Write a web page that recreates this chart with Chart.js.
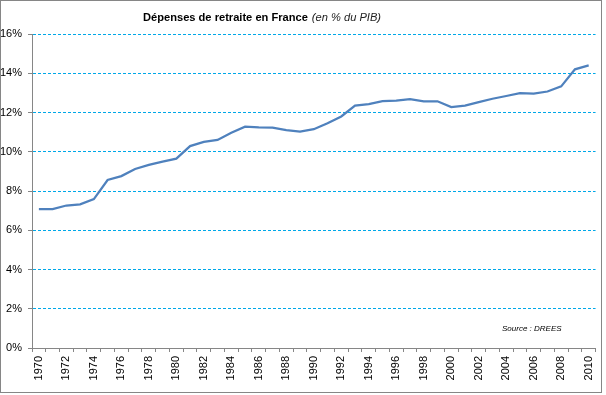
<!DOCTYPE html>
<html><head><meta charset="utf-8">
<script src="https://cdn.jsdelivr.net/npm/chart.js@4"></script>
<style>html,body{margin:0;padding:0;background:#fff}#w{position:relative;width:606px;height:395px}</style>
</head><body><div id="w"><canvas id="c" width="606" height="395"></canvas></div>
<script>
const years = [];
for (let y = 1970; y <= 2010; y++) years.push(String(y));
const spending = [7.08,7.08,7.26,7.32,7.59,8.56,8.76,9.12,9.33,9.5,9.65,10.29,10.5,10.6,10.97,11.28,11.24,11.23,11.1,11.03,11.15,11.45,11.8,12.35,12.43,12.58,12.6,12.68,12.57,12.57,12.28,12.35,12.53,12.7,12.84,12.99,12.96,13.07,13.33,14.2,14.4];
const yTicks = [0,2,4,6,8,10,12,14,16];
const titleBold = "Dépenses de retraite en France";
const titleItalic = "(en % du PIB)";
const sourceText = "Source : DREES";

const FONT = "'Liberation Sans', Arial, sans-serif";
const overlay = {
  id: 'overlay',
  afterDraw(chart) {
    const ctx = chart.ctx;
    ctx.save();
    ctx.strokeStyle = '#868686'; ctx.lineWidth = 1;
    ctx.strokeRect(0.5, 0.5, 601, 392);
    ctx.fillStyle = '#000'; ctx.textBaseline = 'alphabetic'; ctx.textAlign = 'left';
    ctx.font = 'bold 13px ' + FONT;
    const wb0 = ctx.measureText(titleBold).width;
    const sz = Math.min(13, 13 * 165 / wb0);
    ctx.font = 'bold ' + sz + 'px ' + FONT;
    const wb = ctx.measureText(titleBold).width;
    ctx.fillText(titleBold, 143, 21);
    ctx.font = 'italic ' + sz + 'px ' + FONT;
    ctx.fillStyle = '#222';
    ctx.fillText(titleItalic, 143 + wb + 4, 21);
    ctx.font = 'italic 8px ' + FONT;
    ctx.fillStyle = '#000';
    ctx.fillText(sourceText, 502, 331);
    ctx.restore();
  }
};

new Chart(document.getElementById('c'), {
  type: 'line',
  data: { labels: years, datasets: [{ data: spending, borderColor: '#4F81BD', borderWidth: 2.25, pointRadius: 0, tension: 0, fill: false }] },
  options: {
    responsive: false, animation: false,
    layout: { padding: { top: 34, right: 9, bottom: 0, left: 0 } },
    plugins: { legend: { display: false }, tooltip: { enabled: false }, title: { display: false } },
    scales: {
      x: {
        type: 'category', offset: true,
        grid: { offset: true, drawOnChartArea: false, drawTicks: true, tickLength: 4, tickColor: '#868686' },
        border: { color: '#868686', width: 1 },
        ticks: { autoSkip: false, minRotation: 90, maxRotation: 90, padding: 4, color: '#000',
          font: { family: FONT, size: 11 },
          callback: function(v, i) { return i % 2 === 0 ? years[i] : ''; } },
        afterFit(s) { s.height = 47; }
      },
      y: {
        min: 0, max: 16,
        afterBuildTicks(s) { s.ticks = yTicks.map(v => ({ value: v })); },
        grid: { color: ctx => ctx.tick && ctx.tick.value === 0 ? 'rgba(0,0,0,0)' : '#00A8E8', lineWidth: 1,
          borderDash: [3, 2], tickLength: 4, tickColor: '#868686', tickBorderDash: [0, 0] },
        border: { color: '#868686', width: 1, dash: [3, 2] },
        ticks: { padding: 6, color: '#000', font: { family: FONT, size: 11 }, callback: v => v + '%' },
        afterFit(s) { s.width = 32; }
      }
    }
  },
  plugins: [overlay]
});
</script></body></html>
